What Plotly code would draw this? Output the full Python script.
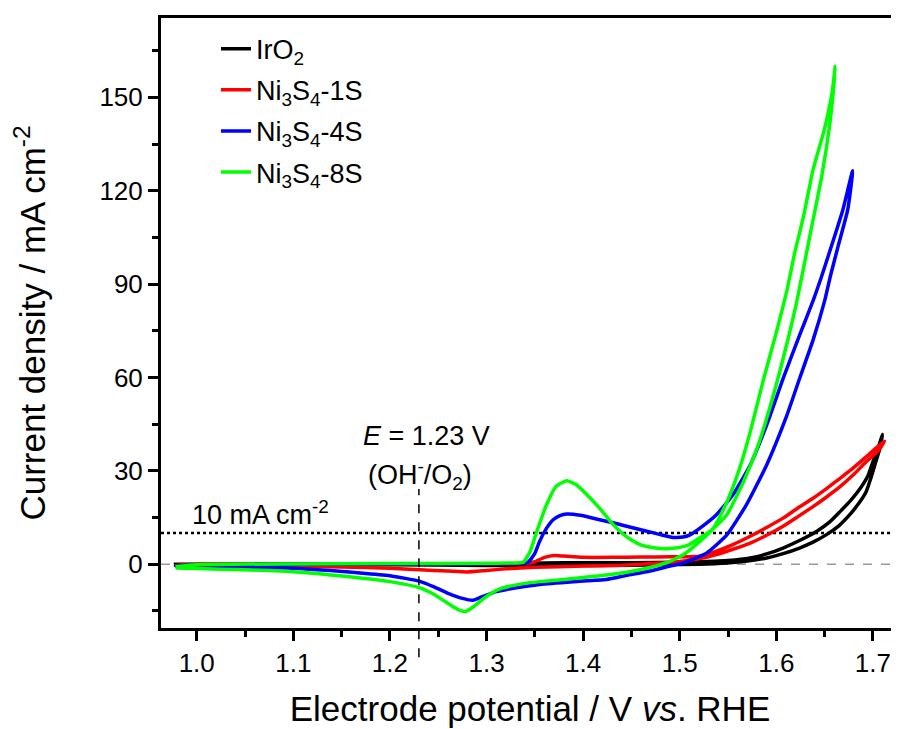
import plotly.graph_objects as go

# ---------------- data ----------------
series_names = ["IrO<sub>2</sub>", "Ni<sub>3</sub>S<sub>4</sub>-1S",
                "Ni<sub>3</sub>S<sub>4</sub>-4S", "Ni<sub>3</sub>S<sub>4</sub>-8S"]
series_colors = ["#000000", "#ff0000", "#0000ff", "#00ff00"]

# IrO2 (forward then reverse sweep)
iro2_v = [0.978, 1.05, 1.15, 1.25, 1.30, 1.34, 1.36, 1.40, 1.45, 1.50, 1.521, 1.55, 1.573,
          1.590, 1.607, 1.624, 1.642, 1.655, 1.666, 1.677, 1.687, 1.695, 1.700, 1.705, 1.710,
          1.707, 1.703, 1.698, 1.693, 1.685, 1.676, 1.665, 1.652, 1.638, 1.624, 1.607, 1.590,
          1.570, 1.549, 1.52, 1.45, 1.35, 1.30, 1.20, 1.05, 0.978]
iro2_j = [0.0, 0.0, 0.0, 0.0, 0.1, 0.2, 0.4, 0.5, 0.5, 0.6, 0.8, 1.2, 2.0,
          3.3, 5.2, 7.6, 10.6, 13.5, 16.9, 20.5, 24.4, 28.5, 32.9, 37.0, 41.7,
          37.0, 32.9, 27.8, 23.3, 19.4, 15.9, 12.4, 9.5, 7.1, 5.2, 3.4, 2.0,
          1.0, 0.4, 0.0, -0.3, -0.5, -0.4, -0.2, -0.1, 0.0]

# Ni3S4-1S
s1_v = [0.978, 1.00, 1.10, 1.20, 1.30, 1.34, 1.35, 1.36, 1.37, 1.38, 1.40, 1.43, 1.46, 1.49,
        1.521, 1.538, 1.555, 1.573, 1.590, 1.607, 1.622, 1.638, 1.652, 1.666, 1.680, 1.693,
        1.705, 1.712,
        1.705, 1.693, 1.680, 1.666, 1.652, 1.638, 1.622, 1.607, 1.590, 1.573, 1.555, 1.538,
        1.521, 1.50, 1.47, 1.44, 1.40, 1.35, 1.32, 1.30, 1.28, 1.26, 1.231, 1.20, 1.15, 1.10,
        1.05, 1.00, 0.978]
s1_j = [-0.3, 0.0, 0.1, 0.1, 0.1, 0.2, 0.8, 2.2, 2.8, 2.6, 2.2, 2.2, 2.3, 2.4,
        2.6, 4.2, 6.3, 9.0, 11.8, 14.8, 18.0, 21.2, 24.3, 27.6, 31.0, 34.5,
        37.8, 39.5,
        36.3, 32.9, 28.8, 24.9, 21.6, 18.5, 15.2, 12.2, 9.3, 6.8, 4.8, 3.1,
        1.8, 0.9, 0.2, -0.3, -0.6, -1.0, -1.5, -2.0, -2.5, -2.2, -1.8, -1.3, -0.9, -0.6,
        -0.4, -0.3, -0.3]

# Ni3S4-4S
s4_v = [0.978, 1.00, 1.10, 1.20, 1.30, 1.335, 1.343, 1.350, 1.355, 1.362, 1.369, 1.376, 1.383,
        1.397, 1.417, 1.431, 1.445, 1.466, 1.480, 1.493, 1.505, 1.511, 1.521, 1.538, 1.555,
        1.573, 1.590, 1.607, 1.624, 1.638, 1.647, 1.656, 1.669, 1.679,
        1.674, 1.664, 1.656, 1.650, 1.638, 1.624, 1.611, 1.590, 1.569, 1.549, 1.528, 1.504,
        1.490, 1.469, 1.445, 1.424, 1.39, 1.355, 1.321, 1.31, 1.295, 1.286, 1.275, 1.259,
        1.245, 1.231, 1.20, 1.169, 1.10, 1.05, 1.00, 0.978]
s4_j = [-0.6, -0.2, 0.0, 0.0, 0.1, 0.2, 0.6, 3.5, 7.4, 11.5, 14.3, 15.6, 16.1,
        15.7, 14.3, 13.3, 12.2, 10.6, 9.5, 8.6, 8.8, 9.5, 11.6, 15.9, 22.3,
        31.9, 44.7, 59.6, 73.5, 84.6, 92.6, 101.2, 114.0, 126.4,
        114.0, 102.2, 92.6, 84.6, 72.0, 59.6, 47.9, 31.9, 19.1, 9.5, 3.6, 0.4,
        -0.6, -2.2, -3.6, -4.9, -5.6, -6.5, -8.1, -8.8, -10.5, -11.6, -11.0, -9.2,
        -7.2, -5.5, -3.7, -2.8, -1.3, -0.9, -0.6, -0.6]

# Ni3S4-8S
s8_v = [0.978, 1.00, 1.10, 1.20, 1.30, 1.33, 1.338, 1.345, 1.352, 1.362, 1.372, 1.383, 1.393,
        1.404, 1.417, 1.431, 1.445, 1.459, 1.475, 1.486, 1.500, 1.510, 1.521, 1.531, 1.540,
        1.549, 1.566, 1.580, 1.593, 1.607, 1.621, 1.636, 1.647, 1.655, 1.659, 1.661,
        1.658, 1.650, 1.638, 1.628, 1.619, 1.611, 1.600, 1.586, 1.573, 1.562, 1.549, 1.535,
        1.517, 1.504, 1.486, 1.470, 1.452, 1.424, 1.40, 1.38, 1.355, 1.335, 1.315, 1.303,
        1.295, 1.285, 1.278, 1.270, 1.259, 1.245, 1.231, 1.20, 1.169, 1.10, 1.05, 1.00, 0.978]
s8_j = [-0.8, -0.2, 0.1, 0.2, 0.3, 0.4, 0.6, 4.0, 10.5, 19.0, 25.0, 26.8, 25.5,
        22.3, 18.0, 12.8, 8.8, 6.3, 5.2, 5.0, 5.4, 6.3, 8.5, 10.5, 13.0,
        16.0, 26.5, 37.2, 50.0, 66.0, 84.1, 107.5, 124.6, 140.6, 152.0, 160.0,
        152.0, 140.0, 126.7, 111.5, 100.0, 88.0, 74.5, 58.5, 42.5, 30.8, 20.1, 11.6,
        6.3, 3.1, 0.4, -1.0, -2.2, -3.5, -4.3, -4.9, -5.6, -6.4, -7.8, -9.7,
        -11.5, -14.0, -15.2, -14.5, -12.4, -9.6, -7.6, -5.6, -4.4, -2.4, -1.8, -1.4, -1.2]

series_v = [iro2_v, s1_v, s4_v, s8_v]
series_j = [iro2_j, s1_j, s4_j, s8_j]

x_ticks = [1.0, 1.1, 1.2, 1.3, 1.4, 1.5, 1.6, 1.7]
y_ticks = [0, 30, 60, 90, 120, 150]
ref_potential = 1.23      # V, OH-/O2
ref_current = 10          # mA cm-2

FONT = "Arial, 'Liberation Sans', sans-serif"

fig = go.Figure()
for i, (name, color, v, j) in enumerate(zip(series_names, series_colors, series_v, series_j)):
    fig.add_trace(go.Scatter(x=v, y=j, mode="lines", name=name, legendgroup=f"g{i}",
                             line=dict(color=color, width=3.5, shape="spline", smoothing=0.5)))

# reference lines
fig.add_shape(type="line", xref="paper", x0=0, x1=1, yref="y", y0=0, y1=0,
              line=dict(color="#999999", width=1.5, dash="dash"), layer="below")
fig.add_shape(type="line", xref="paper", x0=0, x1=1, yref="y", y0=ref_current, y1=ref_current,
              line=dict(color="#000000", width=2.5, dash="dot"), layer="below")
fig.add_shape(type="line", xref="x", x0=ref_potential, x1=ref_potential,
              yref="paper", y0=-0.048, y1=0.228,
              line=dict(color="#000000", width=1.5, dash="dash"))

fig.add_annotation(x=1.0665, y=10.5, xref="x", yref="y", yanchor="bottom",
                   text="10 mA cm<sup>-2</sup>", showarrow=False,
                   font=dict(family=FONT, size=27, color="black"))
fig.add_annotation(x=1.238, y=41.3, xref="x", yref="y",
                   text="<i>E</i> = 1.23 V", showarrow=False,
                   font=dict(family=FONT, size=27, color="black"))
fig.add_annotation(x=1.231, y=28.8, xref="x", yref="y",
                   text="(OH<sup>-</sup>/O<sub>2</sub>)", showarrow=False,
                   font=dict(family=FONT, size=27, color="black"))

# the page body adds an 8 px offset; margins below place the plot area where the reference has it
fig.update_layout(
    width=899, height=729,
    margin=dict(l=153, r=8, t=7, b=109),
    plot_bgcolor="white", paper_bgcolor="white",
    font=dict(family=FONT, color="black"),
    showlegend=True,
    legend=dict(x=0.0745, y=0.989, xanchor="left", yanchor="top",
                bgcolor="rgba(0,0,0,0)", font=dict(family=FONT, size=27, color="black"),
                itemwidth=30, tracegroupgap=3),
    xaxis=dict(range=[0.963, 1.727], tickvals=x_ticks, ticktext=[f"{t:.1f}" for t in x_ticks],
               ticks="outside", ticklen=10, tickwidth=2.5, tickcolor="black",
               minor=dict(dtick=0.05, tick0=1.0, ticks="outside", ticklen=6, tickwidth=2.5,
                          tickcolor="black"),
               showline=True, linewidth=3, linecolor="black", mirror=True,
               showgrid=False, zeroline=False,
               tickfont=dict(family=FONT, size=26, color="black"),
               title=dict(text="Electrode potential / V <i>vs</i>. RHE",
                          font=dict(family=FONT, size=35, color="black"), standoff=20)),
    yaxis=dict(range=[-20.5, 175.5], tickvals=y_ticks,
               ticks="outside", ticklen=10, tickwidth=2.5, tickcolor="black",
               minor=dict(dtick=15, tick0=0, ticks="outside", ticklen=6, tickwidth=2.5,
                          tickcolor="black"),
               showline=True, linewidth=3, linecolor="black", mirror=False,
               showgrid=False, zeroline=False,
               tickfont=dict(family=FONT, size=26, color="black"),
               title=dict(text="Current density / mA cm<sup>-2</sup>",
                          font=dict(family=FONT, size=35, color="black"), standoff=44)),
)

fig.write_html("out.html")
